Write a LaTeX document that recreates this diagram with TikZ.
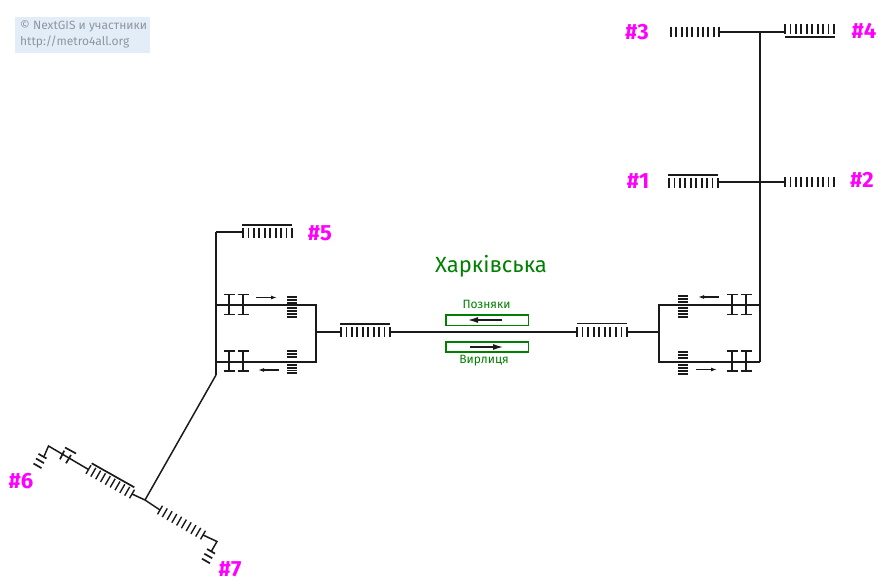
\documentclass[tikz,border=0pt]{standalone}
\usepackage{fontspec}
\setmainfont{Fira Sans}
\usetikzlibrary{arrows.meta,calc}
\definecolor{lineclr}{HTML}{1A1A1A}
\definecolor{greenclr}{HTML}{008000}
\definecolor{pinkclr}{HTML}{FF00FF}
\definecolor{creditclr}{HTML}{E3EDF8}
\definecolor{credittxt}{HTML}{8E979F}
\tikzset{
  track/.style={draw=lineclr,line width=1.8pt},
  thin track/.style={draw=lineclr,line width=1.5pt},
  bar/.style={draw=lineclr,line width=1.7pt},
  num/.style={text=pinkclr,font=\bfseries\fontsize{22}{22}\selectfont,inner sep=0pt},
  side/.style={text=greenclr,font=\fontsize{12}{12}\selectfont,inner sep=0pt},
  credit text/.style={anchor=west,inner sep=0pt,text=credittxt,font=\fontsize{12}{12}\selectfont},
  dirbox/.style={draw=greenclr,line width=1.5pt},
  dirarrow/.style={draw=lineclr,line width=1.2pt,-{Latex[length=10pt,width=6pt]}},
  walkarrow/.style={draw=lineclr,line width=1.3pt,-{Latex[length=6pt,width=4pt]}},
}
% comb of ten ticks from (#1) to (#2), half tick vector #3
\newcommand{\comb}[3]{
  \foreach \i in {0,...,9}
    \draw[bar] ($(#1)!\i/9!(#2)-(#3)$) -- ($(#1)!\i/9!(#2)+(#3)$);
}
% turnstile pair at x=#1, centre y=#2
\newcommand{\gate}[2]{
  \foreach \gx in {#1}{
    \draw[bar] (\gx,#2-10) -- (\gx,#2+10);
    \draw[bar] (\gx-5.5,#2-10) -- (\gx+5.5,#2-10);
    \draw[bar] (\gx-5.5,#2+10) -- (\gx+5.5,#2+10);
  }
}
% horizontal stair ticks from x=#1, at the y values #2
\newcommand{\treads}[2]{
  \foreach \ty in {#2}
    \draw[line width=1.6pt,draw=lineclr] (#1,\ty) -- (#1+10,\ty);
}
\begin{document}
\begin{tikzpicture}[x=1pt,y=-1pt]
\useasboundingbox (0,0) rectangle (885,585);

% credit
\node[fill=creditclr,minimum width=135pt,minimum height=36pt,anchor=north west,inner sep=0pt](credit) at (15,17){};
\node[credit text](creditA) at (20,26){© NextGIS и участники};
\node[credit text](creditB) at (20,42){http://metro4all.org};

% junctions
\coordinate (topjn) at (760,32);
\coordinate (midjn) at (760,182);
\coordinate (rtop) at (760,305);
\coordinate (rbot) at (760,362);
\coordinate (rtopb) at (659,305);
\coordinate (rbotb) at (659,362);
\coordinate (rmid) at (659,332);
\coordinate (ltop) at (216,305);
\coordinate (lbot) at (216,362);
\coordinate (ltopb) at (316,305);
\coordinate (lbotb) at (316,362);
\coordinate (lmid) at (316,332);
\coordinate (lup) at (216,232);
\coordinate (lend) at (216,375);
\coordinate (fork) at (145,500);

% right side
\coordinate (c3a) at (671,32);
\coordinate (c3b) at (719,32);
\coordinate (c4a) at (785,29);
\coordinate (c4b) at (834,29);
\coordinate (c1a) at (669,183);
\coordinate (c1b) at (718,183);
\coordinate (c2a) at (785,182);
\coordinate (c2b) at (834,182);
\comb{c3a}{c3b}{0,5}
\comb{c4a}{c4b}{0,5}
\comb{c1a}{c1b}{0,5}
\comb{c2a}{c2b}{0,5}
\draw[track] (topjn) -- (rbot);
\draw[thin track] (c3b) -- (topjn) -- (785,32);
\draw[thin track] (718,182) -- (midjn) -- (c2a);
\draw[bar] (785,37) -- (835,37);
\draw[bar] (668,175) -- (718,175);

% right hall
\draw[track] (rtop) -- (rtopb) -- (rbotb) -- (rbot);
\draw[track] (rmid) -- (627,332);
\gate{732,746}{304.5}
\gate{732,746}{361}
\treads{678}{296,299,302,308,311,314,317}
\treads{678}{352,355,358,365,368,371,374}
\draw[walkarrow] (719,297) -- (698,297);
\draw[walkarrow] (696,369.5) -- (717,369.5);
\coordinate (c8a) at (577,332);
\coordinate (c8b) at (627,332);
\comb{c8a}{c8b}{0,5}
\draw[bar] (577,323.5) -- (627,323.5);

% platform
\coordinate (c9a) at (341,332);
\coordinate (c9b) at (390,332);
\comb{c9a}{c9b}{0,5}
\draw[bar] (340,324) -- (390,324);
\draw[track] (c9b) -- (c8a);
\node[text=greenclr,font=\fontsize{22}{22}\selectfont,inner sep=0pt](station) at (491,266){Харківська};
\node[side](dirA) at (486.5,304){Позняки};
\node[side](dirB) at (484,361){Вирлиця};
\draw[dirbox] (446,315) rectangle (528.5,325.5);
\draw[dirbox] (446,342) rectangle (528.5,352);
\draw[dirarrow] (502,320) -- (468,320);
\draw[dirarrow] (470,347) -- (503,347);

% left hall
\draw[track] (lup) -- (lend);
\draw[track] (ltop) -- (ltopb) -- (lbotb) -- (lbot);
\draw[track] (lmid) -- (c9a);
\gate{229,243}{304.5}
\gate{229,243}{361}
\treads{287}{297,300,303,308,311,314,317}
\treads{287}{351,354,357,365,368,370.5,373}
\draw[walkarrow] (256,297.5) -- (277,297.5);
\draw[walkarrow] (279,370) -- (258,370);

% exit 5
\coordinate (c5a) at (243,233);
\coordinate (c5b) at (292,233);
\comb{c5a}{c5b}{0,5}
\draw[thin track] (lup) -- (243,232);
\draw[bar] (242,225) -- (292,225);

% labels
\node[num](n3) at (637,32){\#3};
\node[num](n4) at (864,31){\#4};
\node[num](n1) at (638,181){\#1};
\node[num](n2) at (862,180){\#2};
\node[num](n5) at (320,233){\#5};
\node[num](n6) at (21,481){\#6};
\node[num](n7) at (230,569){\#7};

% diagonal
\draw[thin track] (lend) -- (fork);

% exit 6
\coordinate (c6a) at (88.5,469.5);
\coordinate (c6b) at (132,494);
\coordinate (bend6) at (48.5,446);
\coordinate (leg6) at (44,456.5);
\begin{scope}[bar/.append style={line width=1.4pt}]
\comb{c6a}{c6b}{2.5,-4.33}
\end{scope}
\draw[thin track] (fork) -- (c6b);
\draw[thin track] (c6a) -- (bend6) -- (leg6);
\draw[bar] (91.7,463.3) -- (134.3,487.3);
\draw[bar] (65,447.5) -- (76,453.5);
\draw[bar] (60,459.3) -- (64.3,450.7);
\draw[bar] (66,463.3) -- (71,455);
\foreach \sx/\sy in {42.5/456.2,40/460.8,37.5/465.8}
  \draw[bar] (\sx-4,\sy-2.3) -- (\sx+4,\sy+2.3);

% exit 7
\coordinate (c7a) at (160,510);
\coordinate (c7b) at (203,535);
\coordinate (bend7) at (217,541.5);
\coordinate (leg7) at (211.5,551);
\begin{scope}[bar/.append style={line width=1.4pt}]
\comb{c7a}{c7b}{2.5,-4.33}
\end{scope}
\draw[thin track] (fork) -- (c7a);
\draw[thin track] (c7b) -- (bend7) -- (leg7);
\foreach \sx/\sy in {211/551.3,208.3/556,206/561}
  \draw[bar] (\sx-4,\sy-2.3) -- (\sx+4,\sy+2.3);
\end{tikzpicture}
\end{document}
